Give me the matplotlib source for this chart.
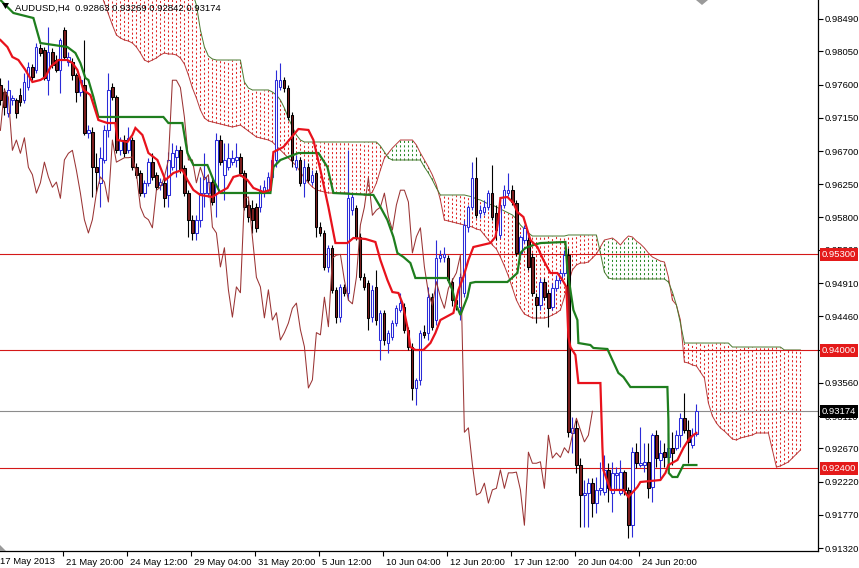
import matplotlib
matplotlib.use("Agg")
import matplotlib.pyplot as plt
import numpy as np
from matplotlib.transforms import blended_transform_factory, ScaledTranslation
from matplotlib.patches import Polygon

plt.rcParams['font.family'] = ['Liberation Sans', 'DejaVu Sans']

# ---------------- data (AUDUSD, H4) ----------------
opens = [
 .9760, .9750, .9722, .9739, .9739, .9746, .9739, .9757, .9784, .9780,
 .9810, .9807, .9766, .9804, .9793, .9780, .9834, .9791, .9791, .9773,
 .9750, .9760, .9695, .9696, .9648, .9627, .9658, .9698, .9757, .9743,
 .9671, .9685, .9671, .9685, .9648, .9640, .9613, .9627, .9655, .9638,
 .9624, .9627, .9610, .9648, .9662, .9671, .9647, .9613, .9577, .9559,
 .9577, .9613, .9613, .9628, .9613, .9685, .9638, .9648, .9655, .9658,
 .9662, .9640, .9597, .9593, .9594, .9594, .9613, .9617, .9635, .9658,
 .9757, .9766, .9756, .9719, .9648, .9658, .9627, .9648, .9628, .9640,
 .9567, .9559, .9513, .9539, .9482, .9445, .9486, .9478, .9590, .9593,
 .9554, .9499, .9491, .9445, .9486, .9414, .9451, .9410, .9418, .9437,
 .9455, .9459, .9428, .9405, .9349, .9360, .9425, .9424, .9472, .9441,
 .9525, .9526, .9525, .9493, .9468, .9459, .9478, .9567, .9594, .9634,
 .9586, .9587, .9594, .9613, .9586, .9556, .9597, .9613, .9617, .9600,
 .9532, .9550, .9550, .9526, .9472, .9461, .9493, .9478, .9459, .9484,
 .9495, .9505, .9529, .9288, .9295, .9245, .9204, .9207, .9220, .9193,
 .9211, .9208, .9238, .9207, .9231, .9207, .9235, .9211, .9163, .9262,
 .9245, .9245, .9249, .9215, .9285, .9251, .9262, .9255, .9268, .9268,
 .9285, .9308, .9292, .9272, .92863]
highs = [
 .9769, .9756, .9766, .9746, .9742, .9756, .9776, .9791, .9788, .9816,
 .9815, .9811, .9838, .9810, .9800, .9823, .9838, .9804, .9796, .9776,
 .9772, .9820, .9705, .9703, .9667, .9675, .9705, .9776, .9762, .9746,
 .9689, .9692, .9703, .9689, .9654, .9644, .9631, .9661, .9667, .9642,
 .9634, .9635, .9669, .9681, .9678, .9677, .9651, .9617, .9583, .9583,
 .9635, .9667, .9638, .9634, .9695, .9692, .9681, .9681, .9671, .9681,
 .9667, .9644, .9604, .9604, .9600, .9624, .9631, .9642, .9665, .9780,
 .9789, .9770, .9760, .9723, .9665, .9662, .9658, .9654, .9644, .9644,
 .9574, .9563, .9543, .9543, .9486, .9490, .9490, .9671, .9613, .9597,
 .9559, .9505, .9495, .9488, .9509, .9455, .9455, .9428, .9441, .9461,
 .9478, .9464, .9432, .9410, .9362, .9428, .9434, .9486, .9478, .9550,
 .9536, .9540, .9529, .9498, .9475, .9505, .9577, .9597, .9655, .9662,
 .9597, .9604, .9617, .9651, .9597, .9604, .9624, .9640, .9624, .9604,
 .9556, .9570, .9554, .9532, .9478, .9498, .9498, .9482, .9491, .9502,
 .9509, .9536, .9539, .9310, .9306, .9254, .9224, .9227, .9227, .9228,
 .9249, .9258, .9247, .9249, .9242, .9251, .9238, .9215, .9269, .9274,
 .9296, .9274, .9274, .9288, .9292, .9278, .9274, .9288, .9289, .9292,
 .9315, .9342, .9306, .9295, .93269]
lows = [
 .9732, .9719, .9716, .9732, .9715, .9731, .9735, .9753, .9766, .9776,
 .9799, .9766, .9746, .9783, .9777, .9749, .9793, .9785, .9766, .9737,
 .9745, .9692, .9688, .9608, .9613, .9594, .9654, .9689, .9739, .9667,
 .9665, .9662, .9667, .9644, .9633, .9609, .9608, .9623, .9631, .9617,
 .9617, .9594, .9594, .9644, .9635, .9640, .9609, .9554, .9550, .9550,
 .9567, .9594, .9608, .9597, .9581, .9651, .9604, .9644, .9651, .9648,
 .9636, .9590, .9574, .9559, .9560, .9587, .9608, .9613, .9631, .9648,
 .9753, .9750, .9712, .9648, .9644, .9623, .9608, .9628, .9624, .9554,
 .9555, .9509, .9506, .9478, .9437, .9438, .9474, .9468, .9583, .9550,
 .9495, .9482, .9427, .9438, .9434, .9387, .9407, .9396, .9414, .9433,
 .9452, .9424, .9400, .9333, .9326, .9353, .9417, .9414, .9428, .9434,
 .9520, .9520, .9493, .9460, .9455, .9441, .9472, .9560, .9590, .9579,
 .9579, .9583, .9590, .9577, .9550, .9552, .9593, .9609, .9597, .9528,
 .9525, .9545, .9509, .9474, .9437, .9455, .9468, .9432, .9455, .9480,
 .9491, .9501, .9283, .9261, .9234, .9161, .9161, .9161, .9174, .9180,
 .9204, .9204, .9194, .9181, .9211, .9204, .9204, .9146, .9147, .9241,
 .9242, .9235, .9200, .9194, .9242, .9224, .9242, .9242, .9245, .9265,
 .9269, .9288, .9247, .9268, .92842]
closes = [
 .9739, .9730, .9753, .9742, .9722, .9737, .9764, .9784, .9770, .9811,
 .9803, .9769, .9804, .9787, .9780, .9820, .9797, .9797, .9773, .9750,
 .9766, .9695, .9698, .9648, .9642, .9661, .9698, .9753, .9743, .9671,
 .9685, .9667, .9688, .9648, .9638, .9613, .9627, .9655, .9635, .9621,
 .9628, .9606, .9658, .9667, .9671, .9644, .9613, .9577, .9559, .9577,
 .9613, .9635, .9628, .9601, .9685, .9655, .9658, .9661, .9661, .9662,
 .9640, .9594, .9581, .9577, .9566, .9617, .9621, .9635, .9658, .9766,
 .9766, .9756, .9716, .9658, .9658, .9627, .9648, .9631, .9638, .9567,
 .9559, .9513, .9539, .9482, .9445, .9486, .9478, .9606, .9608, .9554,
 .9499, .9486, .9444, .9482, .9441, .9451, .9414, .9424, .9437, .9457,
 .9464, .9428, .9405, .9349, .9360, .9424, .9421, .9472, .9432, .9525,
 .9529, .9530, .9495, .9468, .9463, .9499, .9570, .9594, .9634, .9583,
 .9590, .9594, .9613, .9581, .9563, .9597, .9617, .9617, .9601, .9532,
 .9554, .9566, .9513, .9478, .9461, .9493, .9472, .9457, .9484, .9495,
 .9505, .9529, .9289, .9295, .9245, .9204, .9207, .9220, .9193, .9211,
 .9213, .9238, .9213, .9234, .9234, .9235, .9211, .9163, .9262, .9247,
 .9247, .9249, .9213, .9285, .9254, .9261, .9255, .9268, .9261, .9285,
 .9308, .9292, .9276, .9285, .93174]

# Tenkan-sen (red) vertices: bar position, price
tenkan_bar = [0, 1.75, 3, 4.5, 6.25, 8, 10, 11.25, 12.5, 14.5,
 16.75, 18, 19.25, 20.75, 22.5, 24.5, 26.75, 28.75, 29.25, 31.75,
 33, 33.75, 35.5, 37, 39.25, 41.25, 43.25, 45.5, 46.75, 48.25,
 50, 53, 54.5, 56.75, 58.25, 60, 61.75, 63.25, 65.75, 67.5,
 68.25, 70.75, 73.25, 74.5, 77, 78.25, 80, 82, 83.75, 86.75,
 88.25, 91.25, 93.75, 95, 96.75, 98, 99.5, 100.5, 101.75, 102.5,
 103.75, 105.75, 107.5, 108.75, 110, 113.25, 114.5, 115.75, 117, 118.25,
 122.5, 123.75, 124.5, 125, 126.75, 128.25, 129.25, 130.75, 132.5, 134.25,
 135.75, 137.5, 139.25, 140.5, 141.5, 142, 142.5, 143.75, 144.5, 150,
 150.5, 150.75, 152.5, 155.75, 157, 159.25, 160, 165, 166.25, 167,
 169.25, 170.75, 172, 173.25, 174]
tenkan_val = [.98205, .98110, .97975, .97934, .97799, .97636, .97663, .97704, .97839, .97934,
 .97934, .97893, .97799, .97528, .97460, .97121, .97080, .97080, .96850, .96823,
 .96918, .97013, .96918, .96674, .96579, .96308, .96403, .96444, .96308, .96173,
 .96105, .96078, .96132, .96200, .96349, .96376, .96308, .96200, .96145, .96173,
 .96687, .96755, .96918, .96999, .96986, .96850, .96444, .95942, .95454, .95454,
 .95522, .95509, .95468, .95224, .94953, .94790, .94777, .94641, .94316, .94045,
 .94005, .94005, .94099, .94235, .94411, .94506, .94818, .94994, .95224, .95400,
 .95454, .95536, .95766, .96064, .96078, .95996, .95874, .95807, .95495, .95400,
 .95224, .95048, .95048, .94953, .94858, .94181, .94045, .93937, .93557, .93557,
 .92690, .92379, .92108, .92108, .92013, .92148, .92216, .92243, .92338, .92446,
 .92514, .92677, .92785, .92853, .92880]

# Kijun-sen (green) vertices
kijun_bar = [0, 3.25, 8.25, 10, 16.75, 18.75, 20, 21.25, 22, 23.25,
 24.5, 40.75, 42, 45.5, 46.75, 48.25, 51.75, 53.25, 55, 67.5,
 68.25, 70, 74.5, 79.5, 81.75, 83.25, 93.25, 95, 96.75, 98.25,
 99.25, 100.75, 102.5, 103.75, 111.75, 113, 113.75, 115, 116.75, 117.5,
 118.75, 126.75, 129.25, 130, 131.25, 133.25, 135, 141.25, 141.75, 142.5,
 143.25, 144.25, 144.5, 147.5, 148.25, 151.75, 153, 154.5, 155.75, 157.5,
 166.75, 167, 167.1, 168, 169.25, 170.75, 174]
kijun_val = [.98747, .98571, .98503, .98164, .98110, .98029, .97893, .97690, .97663, .97433,
 .97162, .97162, .97080, .97080, .96674, .96511, .96511, .96308, .96132, .96132,
 .96484, .96579, .96674, .96674, .96484, .96132, .96105, .95942, .95766, .95536,
 .95319, .95265, .95183, .94980, .94980, .94818, .94641, .94479, .94723, .94912,
 .94926, .94926, .95048, .95319, .95387, .95427, .95454, .95468, .95089, .94818,
 .94547, .94411, .94099, .94072, .94032, .94018, .93869, .93693, .93639, .93503,
 .93503, .93056, .92338, .92284, .92284, .92446, .92446]

# Senkou spans, one value per bar from bar 25 to bar 200
span_start = 25
span_a = [
 .98855, .98706, .98557, .98408, .98273, .98232, .98205, .98191, .98164, .98110,
 .98029, .97934, .97907, .97934, .97961, .98002, .98029, .98015, .98015, .98002,
 .97961, .97880, .97731, .97555, .97419, .97257, .97148, .97107, .97094, .97080,
 .97067, .97053, .97040, .97026, .97040, .97053, .97013, .96972, .96931, .96891,
 .96877, .96864, .96850, .96823, .96769, .96715, .96660, .96606, .96552, .96498,
 .96416, .96335, .96267, .96213, .96173, .96159, .96145, .96132, .96132, .96132,
 .96132, .96132, .96132, .96118, .96118, .96118, .96105, .96105, .96145, .96267,
 .96444, .96606, .96674, .96742, .96796, .96850, .96850, .96850, .96850, .96782,
 .96674, .96579, .96484, .96376, .96240, .96037, .95766, .95752, .95739, .95725,
 .95712, .95698, .95685, .95671, .95644, .95630, .95563, .95495, .95427, .95373,
 .95265, .95143, .95007, .94845, .94682, .94574, .94492, .94465, .94438, .94438,
 .94438, .94438, .94452, .94479, .94506, .94547, .94723, .94912, .95089, .95156,
 .95183, .95183, .95197, .95251, .95305, .95400, .95495, .95509, .95522, .95481,
 .95427, .95495, .95549, .95536, .95481, .95441, .95387, .95319, .95265, .95238,
 .95210, .95197, .94994, .94682, .94614, .94411, .93841, .93828, .93801, .93788,
 .93706, .93625, .93286, .93110, .93015, .92948, .92906, .92853, .92799, .92785,
 .92812, .92826, .92839, .92853, .92880, .92880, .92880, .92880, .92649, .92419,
 .92433, .92460, .92487, .92541, .92595, .92649]
span_b = [
 .99154, .99154, .99154, .99154, .99154, .99154, .99154, .99154, .99154, .99154,
 .99154, .99154, .99154, .99154, .99154, .99154, .99154, .99154, .99154, .99154,
 .99154, .99154, .99154, .98855, .98679, .98341, .98110, .97988, .97948, .97934,
 .97934, .97934, .97934, .97934, .97934, .97934, .97636, .97555, .97528, .97528,
 .97528, .97528, .97528, .97500, .97460, .97392, .97284, .97148, .97026, .96918,
 .96850, .96823, .96823, .96823, .96823, .96823, .96823, .96823, .96823, .96823,
 .96823, .96823, .96823, .96823, .96823, .96823, .96823, .96823, .96823, .96823,
 .96769, .96687, .96606, .96579, .96579, .96579, .96579, .96579, .96579, .96579,
 .96579, .96484, .96403, .96308, .96200, .96105, .96105, .96105, .96105, .96105,
 .96105, .96105, .96091, .96078, .96051, .96037, .96010, .95983, .95969, .95942,
 .95915, .95888, .95861, .95834, .95780, .95698, .95644, .95590, .95549, .95549,
 .95549, .95549, .95549, .95549, .95549, .95549, .95549, .95563, .95563, .95563,
 .95563, .95563, .95563, .95563, .95563, .95319, .95061, .94980, .94967, .94967,
 .94967, .94967, .94967, .94967, .94967, .94967, .94967, .94967, .94967, .94967,
 .94967, .94967, .94926, .94790, .94614, .94370, .94099, .94099, .94099, .94099,
 .94099, .94099, .94099, .94099, .94099, .94099, .94099, .94099, .94045, .94045,
 .94045, .94045, .94045, .94045, .94045, .94045, .94045, .94045, .94045, .94045,
 .94045, .94005, .94005, .94005, .94005, .94005]

levels_red = [0.9530, 0.9400, 0.9240]
last_price = 0.93174
ytick_vals = [0.98490, 0.98050, 0.97600, 0.97150, 0.96700, 0.96250, 0.95800, 0.95360,
              0.94910, 0.94460, 0.94010, 0.93560, 0.93110, 0.92670, 0.92220, 0.91770, 0.91320]
ytick_hidden = [0.94010]   # covered by the 0.94000 level box
date_labels = ["17 May 2013", "21 May 20:00", "24 May 12:00", "29 May 04:00", "31 May 20:00",
               "5 Jun 12:00", "10 Jun 04:00", "12 Jun 20:00", "17 Jun 12:00", "20 Jun 04:00",
               "24 Jun 20:00"]
title = "AUDUSD,H4  0.92863 0.93269 0.92842 0.93174"

# ---------------- styling ----------------
BULL = '#2b2bd8'
BEAR_FILL = '#7c1e1e'
TENKAN = '#e8121c'
KIJUN = '#1e7e1e'
CHIKOU = '#9a3434'
SPAN_A_C = '#b83a3a'
SPAN_B_C = '#4a7a30'
DOT_RED = '#e02828'
DOT_GREEN = '#2a8a2a'
LEVEL = '#d41818'
FS = 6.8

W, H = 859, 568
fig = plt.figure(figsize=(W / 100, H / 100), dpi=100)
fig.patch.set_facecolor('white')
ax = fig.add_axes([0, 17 / H, 818 / W, 551 / H])
ax.set_facecolor('white')
ax.set_xlim(-0.1, 204.4)
ax.set_ylim(0.91281, 0.98747)

o = np.array(opens); h = np.array(highs); l = np.array(lows); c = np.array(closes)
idx = np.arange(len(c))
up = c >= o

# cloud (dotted histogram)
sa = np.array(span_a); sb = np.array(span_b)
sx = np.arange(span_start, span_start + len(sa))
bear = sb > sa
ax.vlines(sx[bear], sa[bear], sb[bear], colors=DOT_RED, linestyles=(0, (2, 2.2)), lw=0.75, zorder=1)
ax.vlines(sx[~bear], sb[~bear], sa[~bear], colors=DOT_GREEN, linestyles=(0, (2, 2.2)), lw=0.75, zorder=1)
ax.plot(sx, sa, color=SPAN_A_C, lw=0.7, zorder=1.5)
ax.plot(sx, sb, color=SPAN_B_C, lw=0.7, zorder=1.5)

# level lines
for v in levels_red:
    ax.axhline(v, color=LEVEL, lw=0.8, zorder=2)
ax.axhline(last_price, color='#8c8c8c', lw=0.8, zorder=2)

# candles
ax.vlines(idx[up], l[up], h[up], colors=BULL, lw=0.8, zorder=3)
ax.vlines(idx[~up], l[~up], h[~up], colors='black', lw=0.8, zorder=3)
ax.bar(idx[up], c[up] - o[up], bottom=o[up], width=0.55, facecolor='white',
       edgecolor=BULL, lw=0.75, zorder=4)
ax.bar(idx[~up], o[~up] - c[~up], bottom=c[~up], width=0.55, facecolor=BEAR_FILL,
       edgecolor='black', lw=0.75, zorder=4)

# chikou span: closes drawn 26 bars back
ax.plot(idx[26:] - 26, c[26:], color=CHIKOU, lw=0.75, zorder=5)
ax.plot(kijun_bar, kijun_val, color=KIJUN, lw=1.6, zorder=6, solid_joinstyle='miter')
ax.plot(tenkan_bar, tenkan_val, color=TENKAN, lw=1.6, zorder=7, solid_joinstyle='miter')

# axes cosmetics
for s in ['left', 'top']:
    ax.spines[s].set_visible(False)
for s in ['right', 'bottom']:
    ax.spines[s].set_color('black')
    ax.spines[s].set_linewidth(0.9)
ax.yaxis.tick_right()
ax.set_yticks(ytick_vals)
ax.set_yticklabels(['' if v in ytick_hidden else f'{v:.5f}' for v in ytick_vals])
ax.tick_params(axis='y', direction='out', length=3.5, width=0.8, pad=1.5, labelsize=FS)

xt = [16 * k - 0.25 for k in range(1, len(date_labels))]
ax.set_xticks(xt)
ax.set_xticklabels(date_labels[1:])
ax.tick_params(axis='x', direction='out', length=3.5, width=0.8, pad=1.5, labelsize=FS)
off = ScaledTranslation(3 / 100, 0, fig.dpi_scale_trans)
for lab in ax.get_xticklabels():
    lab.set_horizontalalignment('left')
    lab.set_transform(lab.get_transform() + off)
ax.text(0.0, -0.0115, date_labels[0], transform=ax.transAxes, ha='left', va='top', fontsize=FS)

# price boxes on the axis
trans = blended_transform_factory(ax.transAxes, ax.transData)
for v in levels_red:
    ax.text(1.0 + 4 / 818, v, f'{v:.5f}', transform=trans, color='white', fontsize=FS,
            va='center', ha='left', zorder=20, clip_on=False,
            bbox=dict(boxstyle='square,pad=0.2', fc='#e41a1a', ec='none'))
ax.text(1.0 + 4 / 818, last_price, f'{last_price:.5f}', transform=trans, color='white',
        fontsize=FS, va='center', ha='left', zorder=20, clip_on=False,
        bbox=dict(boxstyle='square,pad=0.2', fc='black', ec='none'))

# title and small markers
fig.text(15 / W, 1 - 8 / H, title, fontsize=FS, va='center', ha='left', color='black')
fig.add_artist(Polygon([[2 / W, 1 - 3 / H], [9 / W, 1 - 3 / H], [5.5 / W, 1 - 9 / H]],
                       closed=True, transform=fig.transFigure, fc='black', ec='none'))
fig.add_artist(Polygon([[696 / W, 1.0], [708 / W, 1.0], [702 / W, 1 - 5 / H]],
                       closed=True, transform=fig.transFigure, fc='#9a9a9a', ec='none'))
fig.add_artist(Polygon([[0, 17 / H], [0, 23 / H], [6 / W, 17 / H]],
                       closed=True, transform=fig.transFigure, fc='#9a9a9a', ec='none'))

fig.savefig('out.png', dpi=100, facecolor='white')
